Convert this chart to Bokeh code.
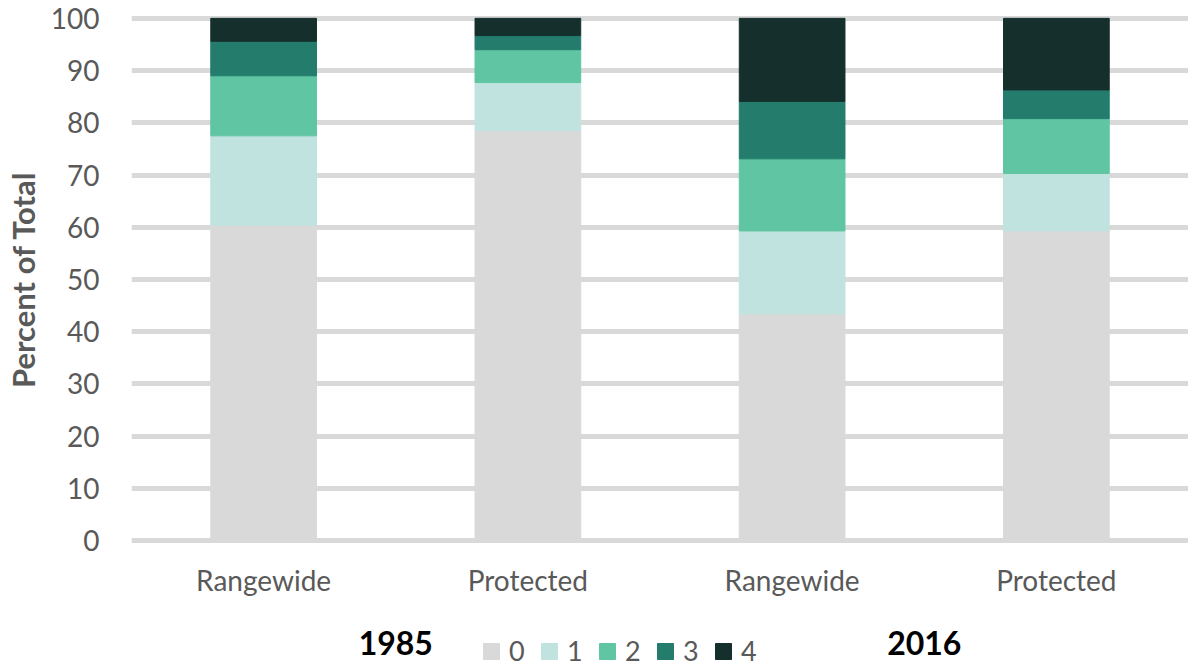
from bokeh.plotting import figure
from bokeh.layouts import column
from bokeh.models import (ColumnDataSource, FactorRange, Range1d, SingleIntervalTicker, Legend,
                          LegendItem)
from bokeh.core.properties import value
from bokeh.embed import file_html
from bokeh.resources import INLINE

years = ["1985", "1985", "2016", "2016"]
areas = ["Rangewide", "Protected", "Rangewide", "Protected"]
year_groups = ["1985", "2016"]
classes = ["0", "1", "2", "3", "4"]
c0 = [60.4, 78.5, 43.4, 59.3]
c1 = [17.1, 9.2, 15.9, 11.0]
c2 = [11.5, 6.3, 13.8, 10.5]
c3 = [6.6, 2.7, 11.0, 5.5]
c4 = [4.4, 3.3, 15.9, 13.7]
colors = ["#d9d9d9", "#c0e3e0", "#60c5a2", "#237c6c", "#15302c"]
stackers = ["c0", "c1", "c2", "c3", "c4"]

factors = list(zip(years, areas))
source = ColumnDataSource(dict(x=factors, c0=c0, c1=c1, c2=c2, c3=c3, c4=c4))
xr = FactorRange(*factors, range_padding=0, group_padding=0, factor_padding=0)

# ---- main chart ----
p = figure(width=1188, height=612, output_backend="svg", toolbar_location=None,
           x_range=xr, y_range=Range1d(-1.5, 101.5),
           min_border_left=131, min_border_right=0, min_border_top=10, min_border_bottom=64)

p.vbar_stack(stackers, x="x", width=0.4, color=colors, source=source)

p.outline_line_color = None
p.xgrid.grid_line_color = None
p.ygrid.grid_line_color = "#d9d9d9"
p.ygrid.grid_line_width = 5

p.yaxis.ticker = SingleIntervalTicker(interval=10)
p.yaxis.axis_line_color = None
p.yaxis.major_tick_line_color = None
p.yaxis.minor_tick_line_color = None
p.yaxis.major_tick_out = 0
p.yaxis.major_label_standoff = 28
p.yaxis.major_label_text_font = "Lato"
p.yaxis.major_label_text_font_size = "28px"
p.yaxis.major_label_text_color = "#595959"
p.yaxis.axis_label = "Percent of Total"
p.yaxis.axis_label_text_font = "Lato"
p.yaxis.axis_label_text_font_size = "31px"
p.yaxis.axis_label_text_font_style = "bold"
p.yaxis.axis_label_text_color = "#595959"
p.yaxis.axis_label_standoff = 6

xa = p.xaxis[0]
xa.axis_line_color = None
xa.major_tick_line_color = None
xa.major_tick_out = 0
xa.major_label_standoff = 14
xa.major_label_text_font = "Lato"
xa.major_label_text_font_size = "28px"
xa.major_label_text_color = "#595959"
xa.group_text_font_size = "1px"
xa.group_text_color = None
xa.separator_line_color = None

# ---- bottom strip: year labels + legend ----
q = figure(width=1188, height=55, output_backend="svg", toolbar_location=None,
           x_range=xr, y_range=Range1d(0, 55), x_axis_location=None, y_axis_location=None,
           min_border_left=131, min_border_right=0, min_border_top=0, min_border_bottom=0)
q.outline_line_color = None
q.xgrid.grid_line_color = None
q.ygrid.grid_line_color = None

rs = q.vbar_stack(stackers, x="x", width=0.4, color=colors, source=source)
for r in rs:
    r.visible = False

q.text(x=year_groups, y=[25, 25], text=year_groups, text_font=value("Lato"),
       text_font_size="32px", text_font_style="bold", text_color="#000000",
       text_align="center", text_baseline="middle")

legend = Legend(items=[LegendItem(label=c, renderers=[r]) for c, r in zip(classes, rs)],
                orientation="horizontal", location=(350, 0),
                glyph_width=20, glyph_height=20, label_standoff=8, spacing=10,
                padding=0, margin=0, border_line_color=None, background_fill_alpha=0,
                label_text_font="Lato", label_text_font_size="27px", label_text_color="#595959")
q.add_layout(legend, "center")

layout = column(p, q, spacing=0)
open("out.html", "w").write(file_html(layout, INLINE))
